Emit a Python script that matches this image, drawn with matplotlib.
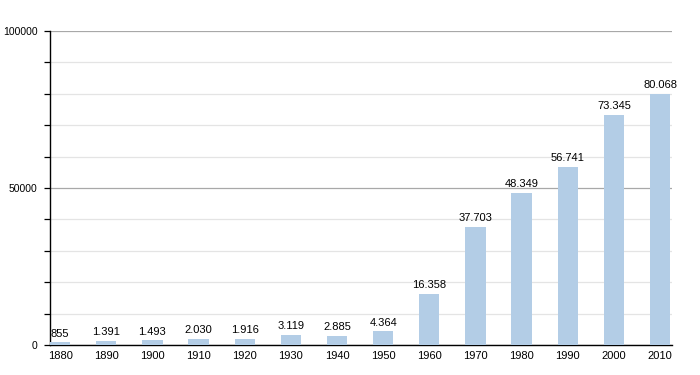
import matplotlib
matplotlib.use("Agg")
from matplotlib import pyplot as plt
from matplotlib.ticker import MultipleLocator

years = ["1880", "1890", "1900", "1910", "1920", "1930", "1940",
         "1950", "1960", "1970", "1980", "1990", "2000", "2010"]
population = [855, 1391, 1493, 2030, 1916, 3119, 2885,
              4364, 16358, 37703, 48349, 56741, 73345, 80068]

plt.rcParams['font.family'] = ['Liberation Sans', 'DejaVu Sans']

fig = plt.figure(figsize=(7, 3.75), dpi=100)
ax = fig.add_axes([50/700, 1 - 345/375, 622/700, 314/375])

x = list(range(len(years)))
ax.bar(x, population, width=0.44, color='#b3cde6', zorder=3)

for i, v in enumerate(population):
    ax.text(i, v + 1200, f"{v:,}".replace(",", "."), ha='center', va='bottom',
            fontsize=8, color='black', zorder=4)

ax.set_ylim(0, 100000)
ax.set_xlim(-0.22, 13.26)
ax.yaxis.set_major_locator(MultipleLocator(50000))
ax.yaxis.set_minor_locator(MultipleLocator(10000))
ax.grid(axis='y', which='major', color='#a8a8a8', linewidth=0.9, zorder=1)
ax.grid(axis='y', which='minor', color='#e4e4e4', linewidth=0.9, zorder=1)

ax.set_xticks(x)
ax.set_xticklabels(years)
ax.tick_params(axis='x', length=0, pad=4, labelsize=8)
ax.tick_params(axis='y', which='both', length=4, width=0.9, labelsize=7.5, pad=5)

for side in ['top', 'right']:
    ax.spines[side].set_visible(False)
ax.spines['left'].set_linewidth(1)
ax.spines['bottom'].set_linewidth(1)

fig.savefig("out.png", dpi=100)
